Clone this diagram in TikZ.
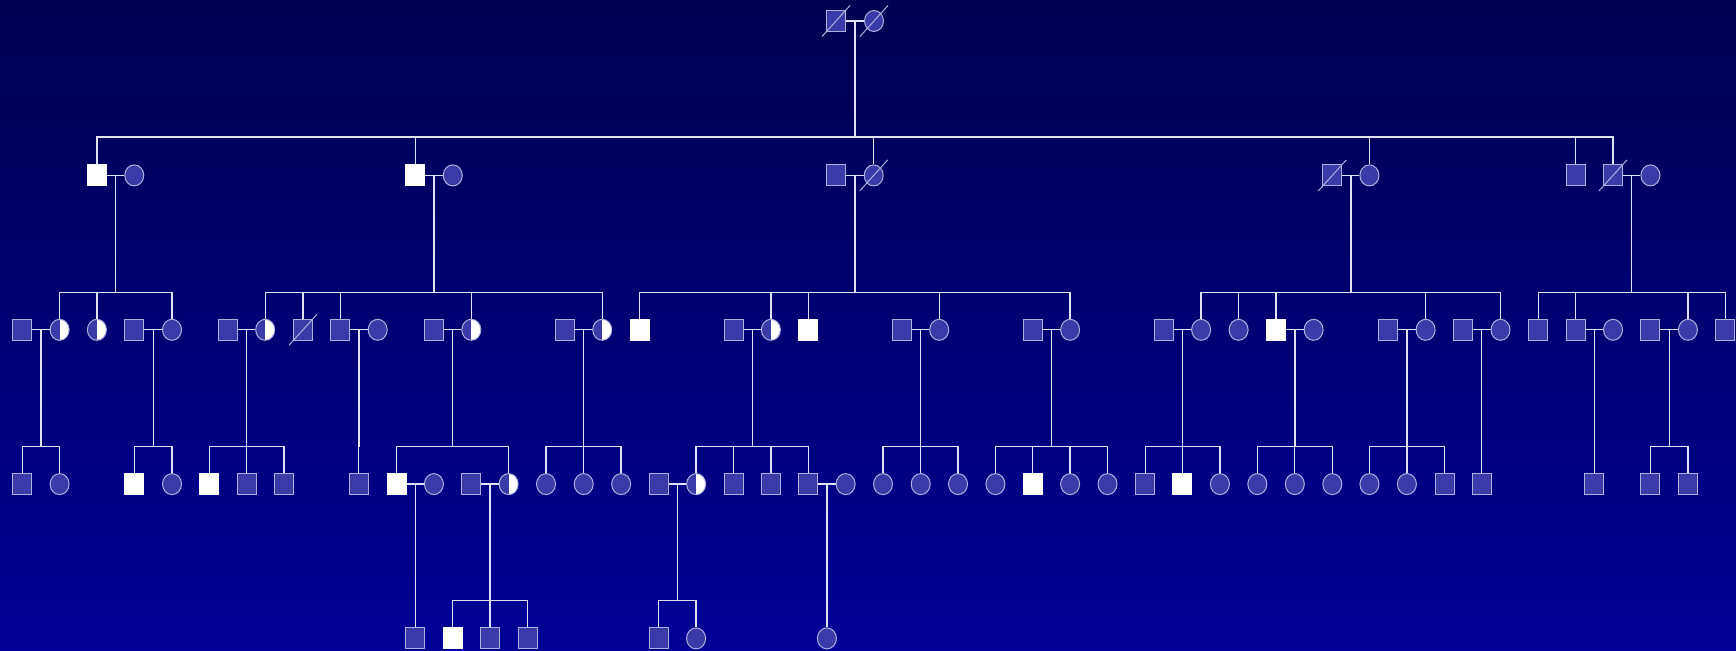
\documentclass[tikz,border=0pt]{standalone}
\usepackage{xcolor}
\usepackage{tikz}
\usetikzlibrary{shapes.geometric,calc}

\definecolor{bgtop}{RGB}{0,0,80}
\definecolor{bgbottom}{RGB}{0,0,150}
\definecolor{symfill}{RGB}{58,58,168}
\definecolor{symline}{RGB}{176,176,224}
\definecolor{linecol}{RGB}{225,225,245}

% couple: marriage line and the point their children hang from
\newcommand\marry[3]{%
  \draw[famline] (#1.east) -- (#2.west);
  \coordinate (#3) at ($(#1)!0.5!(#2)$);}
% sibship: descent from couple point #1 to a bar at height #2
\newcommand\sibship[3]{%
  \draw[famline] (#1) -- (#1 |- 0,#2);
  \foreach \kid in {#3} \draw[famline] (\kid.north) |- (#1 |- 0,#2);}

\begin{document}
\begin{tikzpicture}[x=1pt, y=-1pt,
    person/.style={draw=symline, line width=1pt, fill=symfill, inner sep=0pt,
                   minimum width=19pt, minimum height=21pt},
    male/.style={person, rectangle},
    female/.style={person, ellipse},
    affected/.style={fill=white, draw=white},
    carrier/.style={female, path picture={\fill[white]
        (path picture bounding box.north) rectangle (path picture bounding box.south east);}},
    famline/.style={draw=linecol, line width=1.3pt},
    slash/.style={draw=symline, line width=1pt}]
  \shade[top color=bgtop, bottom color=bgbottom] (0,0) rectangle (1736,650);

  % generation I
  \node[male]   (g1m) at (836,21) {};
  \node[female] (g1f) at (874,21) {};

  % generation II
  \node[male, affected] (a)  at (96.9,175.4) {};
  \node[female]         (aw) at (134.3,175.4) {};
  \node[male, affected] (b)  at (415.4,175.4) {};
  \node[female]         (bw) at (452.8,175.4) {};
  \node[male]           (ch) at (836,175.4) {};
  \node[female]         (c)  at (873.7,175.4) {};
  \node[male]           (dh) at (1332.3,175.4) {};
  \node[female]         (d)  at (1369.4,175.4) {};
  \node[male]           (e)  at (1575.5,175.4) {};
  \node[male]           (f)  at (1613,175.4) {};
  \node[female]         (fw) at (1650.4,175.4) {};

  % generation III
  \node[male]           (a1h) at (22.2,329.8) {};
  \node[carrier]        (a1)  at (59.6,329.8) {};
  \node[carrier]        (a2)  at (96.9,329.8) {};
  \node[male]           (a3h) at (134.3,329.8) {};
  \node[female]         (a3)  at (172,329.8) {};
  \node[male]           (b1h) at (227.9,329.8) {};
  \node[carrier]        (b1)  at (265.2,329.8) {};
  \node[male]           (b2)  at (303,329.8) {};
  \node[male]           (b3)  at (340.3,329.8) {};
  \node[female]         (b3w) at (377.7,329.8) {};
  \node[male]           (b4h) at (433.9,329.8) {};
  \node[carrier]        (b4)  at (471.3,329.8) {};
  \node[male]           (b5h) at (564.8,329.8) {};
  \node[carrier]        (b5)  at (602.2,329.8) {};
  \node[male, affected] (c1)  at (639.6,329.8) {};
  \node[male]           (c2h) at (733.5,329.8) {};
  \node[carrier]        (c2)  at (770.9,329.8) {};
  \node[male, affected] (c3)  at (808.2,329.8) {};
  \node[male]           (c4h) at (901.8,329.8) {};
  \node[female]         (c4)  at (939.2,329.8) {};
  \node[male]           (c5h) at (1032.8,329.8) {};
  \node[female]         (c5)  at (1070.1,329.8) {};
  \node[male]           (d1h) at (1164,329.8) {};
  \node[female]         (d1)  at (1201.1,329.8) {};
  \node[female]         (d2)  at (1238.6,329.8) {};
  \node[male, affected] (d3)  at (1276.1,329.8) {};
  \node[female]         (d3w) at (1313.6,329.8) {};
  \node[male]           (d4h) at (1388.1,329.8) {};
  \node[female]         (d4)  at (1425.6,329.8) {};
  \node[male]           (d5h) at (1463.1,329.8) {};
  \node[female]         (d5)  at (1500.5,329.8) {};
  \node[male]           (f1)  at (1538.4,329.8) {};
  \node[male]           (f2)  at (1575.5,329.8) {};
  \node[female]         (f2w) at (1613,329.8) {};
  \node[male]           (f3h) at (1650.4,329.8) {};
  \node[female]         (f3)  at (1687.9,329.8) {};
  \node[male]           (f4)  at (1725.4,329.8) {};

  % generation IV
  \node[male]           (a11)  at (22.2,484.1) {};
  \node[female]         (a12)  at (59.6,484.1) {};
  \node[male, affected] (a31)  at (134.3,484.1) {};
  \node[female]         (a32)  at (172,484.1) {};
  \node[male, affected] (b11)  at (209.4,484.1) {};
  \node[male]           (b12)  at (246.7,484.1) {};
  \node[male]           (b13)  at (284.1,484.1) {};
  \node[male]           (b31)  at (358.8,484.1) {};
  \node[male, affected] (b41)  at (396.5,484.1) {};
  \node[female]         (b41w) at (433.9,484.1) {};
  \node[male]           (b42h) at (471.3,484.1) {};
  \node[carrier]        (b42)  at (508.6,484.1) {};
  \node[female]         (b51)  at (546,484.1) {};
  \node[female]         (b52)  at (583.7,484.1) {};
  \node[female]         (b53)  at (621.1,484.1) {};
  \node[male]           (c21h) at (658.8,484.1) {};
  \node[carrier]        (c21)  at (696.1,484.1) {};
  \node[male]           (c22)  at (733.5,484.1) {};
  \node[male]           (c23)  at (770.9,484.1) {};
  \node[male]           (c24)  at (808.2,484.1) {};
  \node[female]         (c24w) at (845.6,484.1) {};
  \node[female]         (c41)  at (883,484.1) {};
  \node[female]         (c42)  at (920.7,484.1) {};
  \node[female]         (c43)  at (958,484.1) {};
  \node[female]         (c51)  at (995.4,484.1) {};
  \node[male, affected] (c52)  at (1032.8,484.1) {};
  \node[female]         (c53)  at (1070.1,484.1) {};
  \node[female]         (c54)  at (1107.5,484.1) {};
  \node[male]           (d11)  at (1145.2,484.1) {};
  \node[male, affected] (d12)  at (1182.4,484.1) {};
  \node[female]         (d13)  at (1219.9,484.1) {};
  \node[female]         (d31)  at (1257.3,484.1) {};
  \node[female]         (d32)  at (1294.8,484.1) {};
  \node[female]         (d33)  at (1332.3,484.1) {};
  \node[female]         (d41)  at (1369.4,484.1) {};
  \node[female]         (d42)  at (1406.9,484.1) {};
  \node[male]           (d43)  at (1444.7,484.1) {};
  \node[male]           (d51)  at (1481.8,484.1) {};
  \node[male]           (f21)  at (1594.2,484.1) {};
  \node[male]           (f31)  at (1650.4,484.1) {};
  \node[male]           (f32)  at (1687.9,484.1) {};

  % generation V
  \node[male]           (b411) at (415.2,638.4) {};
  \node[male, affected] (b421) at (452.8,638.4) {};
  \node[male]           (b422) at (490.1,638.4) {};
  \node[male]           (b423) at (527.5,638.4) {};
  \node[male]           (c211) at (658.8,638.4) {};
  \node[female]         (c212) at (696.1,638.4) {};
  \node[female]         (c241) at (826.9,638.4) {};

  % deceased
  \foreach \n in {g1m, g1f, c, dh, f, b2}
    \draw[slash] ([shift={(-14,15.5)}]\n.center) -- ([shift={(14,-15.5)}]\n.center);

  % couples
  \marry{g1m}{g1f}{g1}
  \marry{a}{aw}{am}   \marry{b}{bw}{bm}   \marry{ch}{c}{cm}
  \marry{dh}{d}{dm}   \marry{f}{fw}{fm}
  \marry{a1h}{a1}{a1m} \marry{a3h}{a3}{a3m} \marry{b1h}{b1}{b1m}
  \marry{b3}{b3w}{b3m} \marry{b4h}{b4}{b4m} \marry{b5h}{b5}{b5m}
  \marry{c2h}{c2}{c2m} \marry{c4h}{c4}{c4m} \marry{c5h}{c5}{c5m}
  \marry{d1h}{d1}{d1m} \marry{d3}{d3w}{d3m} \marry{d4h}{d4}{d4m}
  \marry{d5h}{d5}{d5m} \marry{f2}{f2w}{f2m} \marry{f3h}{f3}{f3m}
  \marry{b41}{b41w}{b41m} \marry{b42h}{b42}{b42m}
  \marry{c21h}{c21}{c21m} \marry{c24}{c24w}{c24m}

  % sibships
  \sibship{g1}{137}{a, b, c, d, e, f}
  \sibship{am}{292.2}{a1, a2, a3}
  \sibship{bm}{292.2}{b1, b2, b3, b4, b5}
  \sibship{cm}{292.2}{c1, c2, c3, c4, c5}
  \sibship{dm}{292.2}{d1, d2, d3, d4, d5}
  \sibship{fm}{292.2}{f1, f2, f3, f4}
  \sibship{a1m}{446.2}{a11, a12}
  \sibship{a3m}{446.2}{a31, a32}
  \sibship{b1m}{446.2}{b11, b12, b13}
  \sibship{b3m}{446.2}{b31}
  \sibship{b4m}{446.2}{b41, b42}
  \sibship{b5m}{446.2}{b51, b52, b53}
  \sibship{c2m}{446.2}{c21, c22, c23, c24}
  \sibship{c4m}{446.2}{c41, c42, c43}
  \sibship{c5m}{446.2}{c51, c52, c53, c54}
  \sibship{d1m}{446.2}{d11, d12, d13}
  \sibship{d3m}{446.2}{d31, d32, d33}
  \sibship{d4m}{446.2}{d41, d42, d43}
  \sibship{d5m}{446.2}{d51}
  \sibship{f2m}{446.2}{f21}
  \sibship{f3m}{446.2}{f31, f32}
  \sibship{b41m}{600.6}{b411}
  \sibship{b42m}{600.6}{b421, b422, b423}
  \sibship{c21m}{600.6}{c211, c212}
  \sibship{c24m}{600.6}{c241}
\end{tikzpicture}
\end{document}
